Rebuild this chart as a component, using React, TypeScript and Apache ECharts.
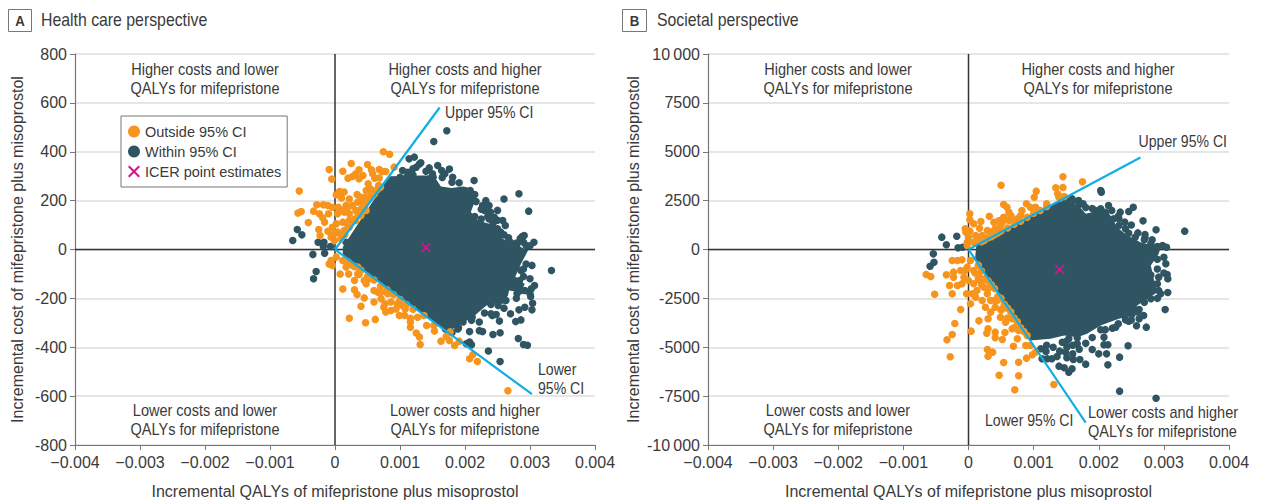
import React, { useEffect, useRef } from "react";
import * as echarts from "echarts";

const FONT = "'Liberation Sans', sans-serif";
const TEXT = "#3a3a3a";
const ORANGE = "#f7941d";
const DARK = "#2f5563";
const BLUE = "#10aee4";
const PINK = "#d4148c";

const xBounds = [-0.004, 0.004];
const xTicks = [-0.004, -0.003, -0.002, -0.001, 0, 0.001, 0.002, 0.003, 0.004];
const xLabels = ["−0.004", "−0.003", "−0.002", "−0.001", "0", "0.001", "0.002", "0.003", "0.004"];
const yBoundsA = [-800, 800];
const yBoundsB = [-10000, 10000];

// Panel A: health care perspective
const aIcer = [[0.0014, 8]];
const aUpperCI = [[0, 0], [0.00161, 581]];
const aLowerCI = [[0, 0], [0.00303, -592]];
const aOutside = [
  [.000744,400],[.00084,390],[.00091,337],[-.00009,327],[-.00005,288],[.00012,320],[.00025,352],[.0005,348],[.00037,326],[.00032,310],[.00027,299],[.0002,292],[.00037,289],[.00043,303],[.00056,326],[.00058,310],[.00068,327],[.00073,319],[.00078,319],[.00061,292],[.00068,293],
  [-.00055,239],[-.00057,149],[-.00052,155],[-.00041,110],[-.00033,157],[-.00028,183],[-.00018,183],[-.00011,180],[-.00004,173],[-.00024,146],[-.00019,130],[-.00016,112],[-.0001,146],[-.00025,82],[-.00023,57],[-.00011,75],[-.00006,50],[-.00001,37],
  [.00002,224],[.00007,237],[.00014,235],[.0001,211],[.00022,207],[.00034,225],[.00048,241],[.00051,269],[.00055,248],[.00067,262],[.00005,173],[.00017,180],[.00027,180],[.0004,194],[.00051,207],[.00061,228],
  [.00004,146],[.00014,153],[.00022,146],[.00032,160],[.00043,173],[.00048,160],[.00002,105],[.00012,112],[.00022,119],[.00032,119],[.0004,139],[-.00004,91],[.00004,71],[.00014,78],[.00022,91],[.00009,44],[-.00001,64],[.00012,160],[.0002,173],[.00035,194],[.00045,214],[.00055,221],[.00058,235],[.0004,214],
  [.0001,55],[.0002,95],[.0003,125],[.0004,165],[.0005,200],[.0006,235],[.0007,255],[.00025,110],[.00035,150],[.00045,180],[.00055,215],[.00015,60],[.00065,245],
  [-.00006,-45],[-.00009,-59],[-.00004,-65],[.00002,-31],[.00012,-45],[.00017,-72],[.00008,-100],[.00021,-100],[.0003,-127],[.00012,-162],[.0003,-165],[.00034,-184],[.0004,-232],[.00045,-198],[.00022,-281],[.00047,-300],[.00062,-286],[.0006,-215],[.00035,-100],[.00037,-102],[.00045,-127],[.00053,-120],[.00048,-140],[.00066,-175],[.0006,-168],[.00071,-202],[.00077,-222],[.00075,-236],[.00078,-256],[.00086,-250],[.00094,-243],[.00099,-270],[.00107,-270],[.00108,-243],[.00116,-281],[.00116,-297],[.00116,-318],[.00125,-342],[.0013,-358],[.00131,-389],[.00086,-215],[.00096,-222],[.00104,-229],[.00127,-277],[.00081,-181],[.00071,-175],[.00035,-72],[.00027,-65],
  [.0002,-50],[.0004,-85],[.0006,-125],[.0008,-165],[.001,-205],[.0012,-245],[.0005,-110],[.0007,-150],[.0009,-185],[.0011,-225],[.0003,-70],
  [.00137,-270],[.00141,-311],[.00152,-311],[.00153,-334],[.00163,-375],[.00171,-356],[.00176,-372],[.00184,-393],[.00191,-375],[.00177,-338],[.00207,-447],[.00212,-431],[.00219,-458],[.00266,-578],
];
const aWithin = [
  [-.00058,82],[-.00051,60],[-.00065,37],[-.00026,30],[-.00017,30],[-.00007,12],[-.00018,12],[.00017,30],[-.00034,-20],[-.00016,-15],[-.00029,-90],[-.00033,-120],
  [.00122,378],[.00114,371],[.00104,323],[.00112,316],[.0013,350],[.00125,337],[.0012,330],
  [.00172,486],[.00152,442],[.00145,334],[.00158,344],[.00176,329],[.00164,323],[.00169,310],[.00181,296],[.00214,282],[.00191,273],[.00151,296],[.00145,289],[.00132,355],[.00283,228],[.0026,207],[.00298,157],[.00232,200],[.00227,180],[.00217,196],[.00237,180],[.0025,160],[.00225,125],[.00245,132],[.00258,119],[.00262,98],[.00255,71],[.00267,48],[.00291,57],[.00288,53],[.00306,30],[.00294,16],[.00279,26],[.00208,241],[.00199,241],[.0023,160],[.00239,153],[.00243,105],[.0025,85],
  [.002,215],[.00215,225],[.00225,165],[.00235,135],[.00215,135],[.00225,100],[.00237,125],[.0025,120],[.0024,75],[.0026,60],[.0027,30],[.0028,20],[.0029,30],[.003,15],[.00285,45],[.0018,275],[.00165,295],[.0015,310],[.0014,320],[.0012,305],[.0011,295],[.001,295],
  [.00333,-86],[.00254,-458],[.00236,-415],[.00282,-364],[.0029,-389],[.00296,-392],[.00243,-348],[.00254,-341],[.00207,-336],[.00222,-332],[.00227,-336],[.00207,-379],[.0021,-390],[.00202,-386],[.00222,-297],[.00253,-293],[.00278,-295],[.00286,-288],[.00242,-270],[.00248,-266],[.0027,-263],[.00283,-247],[.00292,-236],[.00303,-247],[.00304,-220],[.00301,-192],[.00279,-199],[.00263,-209],[.00255,-175],[.00261,-181],[.00286,-168],[.00292,-168],[.00307,-147],[.00302,-161],[.00284,-127],[.00276,-127],[.00294,-59],[.00303,-65],[.00286,-86],[.00189,-325],[.00197,-297],[.00211,-277],[.00251,-229],[.0024,-263],
  [.0024,-225],[.0026,-240],[.0023,-260],[.0021,-290],[.0019,-320],[.0018,-340],[.0017,-325],[.0028,-150],[.0029,-110],[.003,-120],[.0029,-80],[.0027,-100],[.003,-180],[.0028,-180],[.0026,-150],[.0025,-200],
];
const aCore = [
  [.00012,10],[.00075,265],[.00085,300],[.00132,303],[.00143,303],[.00156,285],[.00163,258],[.00179,252],[.00197,258],[.00212,248],[.00217,211],[.00209,153],[.0022,119],[.00237,105],[.00248,91],[.00258,44],[.00281,16],[.00297,-4],[.00286,-59],[.00276,-120],[.00292,-140],[.00286,-175],[.00268,-168],[.00261,-222],[.00243,-222],[.00233,-229],[.00215,-270],[.00199,-297],[.00181,-325],[.0016,-315],[.00132,-258],[.00012,-20],
];

// Panel B: societal perspective
const bIcer = [[0.0014, -1023]];
const bUpperCI = [[0, 0], [0.00264, 4706]];
const bLowerCI = [[0, 0], [0.0018, -8850]];
const bOutside = [
  [.0005,3290],[.00104,2984],[.00101,2677],[.0012,2336],[.00089,2336],[.00054,2302],[.00059,2165],[.00062,1910],[.00065,1739],[.00082,1995],[.0008,1739],[.00095,2165],[.00103,2165],[.00075,1569],[.00002,1824],[.00002,1517],[.00032,1705],[.00019,1432],[.00008,1313],[-.00005,1057],[-.00004,887],[.00017,1091],[.00002,938],[0,631],[-.00002,375],[-.00002,205],[.00011,716],[.00021,716],[.00029,972],[.00039,1398],[.00047,1483],[.00054,1654],[.00049,1228],[.00041,1057],[.00034,887],[.00024,460],[.00016,460],[.00008,375],[.00062,1483],[.00052,1398],[.0007,1483],
  [.0002,400],[.0003,600],[.0004,760],[.0005,950],[.0006,1100],[.0007,1290],[.0008,1450],[.0009,1650],[.001,1850],[.0011,2000],[.0012,2200],[.00035,650],[.00045,850],
  [.00145,3717],[.00175,3461],[.00145,3171],[.00134,3154],[.00137,2847],[.00139,2677],[.00147,2711],
  [-.00065,-1279],[-.00058,-1381],[-.00052,-2285],[-.00034,-1296],[-.00023,-1159],[-.00023,-1415],[-.00029,-1841],[-.00025,-2268],[-.00025,-563],[-.00017,-563],[-.0001,-529],[-.00017,-1841],[-.0001,-1756],[-.00012,-3069],[-.00021,-3785],[-.00025,-4348],[-.00033,-4621],[-.00028,-5490],[.00004,-4177],[.00003,-2779],[.00016,-3649],[-.00003,-2268],[-.00005,-1074],[.00003,-563],[0,-1585],[-.00007,-1415],[.00008,-1756],[.00013,-2097],[.00021,-2609],[.00011,-2438],[.00029,-2268],[.00034,-2609],[.00041,-2950],[.00034,-3205],[.0003,-3546],[.00028,-4280],[.0003,-4058],[.00041,-4228],[.00041,-4518],[.00052,-4604],[.00056,-4245],[.00049,-3461],[.00057,-3717],[.00067,-3546],[.00067,-4058],[.00077,-4143],[.00075,-4569],[.00069,-4945],[.00029,-5115],[.00037,-5251],[.0003,-5456],[.00054,-5780],[.00077,-5763],[.00047,-6428],[.00077,-6462],[.00071,-7178],[.00089,-5558],[.00098,-5388],[.00103,-5252],[.00088,-4910],[.00095,-4910],[.00052,-3035],[.00044,-2609],[.00024,-1927],[.00018,-1585],[-.00002,-903],[-.00012,-1074],[.00008,-1074],[.00016,-1330],[.00006,-2268],[.00026,-2950],[.00131,-6905],
  [.0002,-1100],[.0003,-1600],[.0004,-2000],[.0005,-2500],[.0006,-3000],[.0007,-3500],[.0008,-4000],[.0009,-4400],[.00025,-1500],[.00035,-1800],[.00045,-2400],[.00055,-2800],[.00065,-3200],[.00075,-3700],[.00085,-4200],[.00015,-800],[.0001,-1200],[.00015,-1500],[.0002,-1800],[.0003,-2000],[.0004,-2600],[.0005,-3100],[.0006,-3500],[.0007,-4000],
];
const bWithin = [
  [-.00041,631],[-.00034,239],[-.00018,682],[-.00016,85],[-.00009,119],
  [.00203,3018],[.00204,2933],[.00332,938],[.00268,1466],[.00288,1006],[.00253,2165],[.00246,1944],[.00233,1910],[.00215,2251],[.00203,2080],[.00195,1995],[.00176,2336],[.00169,2506],[.00159,2592],[.00147,2302],[.00256,631],[.00271,767],[.00271,597],[.00282,494],[.00298,205],[.00304,119],[.00241,1057],[.00231,1228],[.00223,1569],[.00231,1569],[.00246,835],
  [.0022,2000],[.0021,1900],[.0023,1700],[.0024,1400],[.0025,1250],[.0026,850],[.0027,500],[.0028,300],[.0029,150],[.0019,2100],[.0018,2150],[.0017,2300],[.0016,2450],[.0015,2500],
  [.00303,-733],[.00305,-1279],[.00306,-1500],[.00306,-2200],[.00302,-3069],[.0028,-2523],[.00272,-2182],[.00292,-2097],[.00282,-1756],[.0029,-1756],[.00295,-2268],[.00292,-1415],[.00262,-3547],[.00269,-3376],[.00258,-3904],[.00273,-3972],[.00251,-3325],[.00262,-3069],[.00241,-3598],[.00246,-3666],[.00221,-4023],[.00226,-3972],[.00203,-4109],[.00208,-4484],[.00208,-4876],[.00214,-4876],[.00245,-4927],[.0019,-5115],[.002,-5337],[.00212,-5337],[.00232,-5507],[.00214,-5900],[.0018,-5865],[.00171,-5627],[.00161,-5627],[.0016,-5337],[.00151,-5541],[.00149,-5252],[.00136,-5473],[.00128,-5592],[.00139,-5967],[.00147,-6053],[.00154,-6274],[.00159,-6104],[.00151,-4996],[.00144,-4740],[.00154,-4570],[.00167,-4825],[.00167,-4518],[.00232,-7246],[.00288,-7605],
  [.0029,-1000],[.003,-1200],[.0028,-1300],[.0029,-500],[.003,-400],[.0029,-2500],[.0027,-2700],[.0026,-3200],[.0025,-3600],[.0023,-3800],[.0021,-4100],[.0019,-4500],[.0018,-4800],[.0017,-5100],[.0015,-4700],[.0013,-5000],[.0014,-5200],[.0012,-4900],[.0016,-4900],
  [-.00054,-222],[-.00053,-648],[-.00059,-853],[.00111,-5081],[.00119,-5217],[.00113,-5592],[.00121,-5592],
];
const bCore = [
  [.00012,220],[.00138,2480],[.00152,2421],[.00169,2250],[.0018,1824],[.00211,2080],[.00221,1569],[.00228,1142],[.00244,716],[.00264,375],[.00295,85],[.00292,-222],[.0028,-818],[.00285,-1585],[.0029,-2183],[.00275,-2523],[.00259,-2864],[.00254,-3376],[.00231,-3547],[.00216,-3717],[.00203,-3887],[.00182,-4313],[.00167,-4484],[.00147,-4399],[.00126,-4570],[.00095,-4650],[.0001,-500],
];

// Text
const quadrantA = ["Higher costs and lower\nQALYs for mifepristone", "Higher costs and higher\nQALYs for mifepristone", "Lower costs and lower\nQALYs for mifepristone", "Lower costs and higher\nQALYs for mifepristone"];
const legendNames = ["Outside 95% CI", "Within 95% CI", "ICER point estimates"];
const xName = "Incremental QALYs of mifepristone plus misoprostol";
const yName = "Incremental cost of mifepristone plus misoprostol";
const X_ICON = "path://M1.2 0L5 3.8L8.8 0L10 1.2L6.2 5L10 8.8L8.8 10L5 6.2L1.2 10L0 8.8L3.8 5L0 1.2Z";

const panelSeries = (i: number, outside: number[][], within: number[][], core: number[][], upper: number[][], lower: number[][], icer: number[][], yb: number[]) => {
  const axes = { xAxisIndex: i, yAxisIndex: i };
  const zero = (data: number[][]) => ({
    type: "line", ...axes, data, showSymbol: false, silent: true, z: 1,
    lineStyle: { color: "#333", width: 1.5 },
  });
  const ci = (data: number[][]) => ({
    type: "line", ...axes, data, showSymbol: false, silent: true, z: 4,
    lineStyle: { color: BLUE, width: 2.2 },
  });
  return [
    zero([[xBounds[0], 0], [xBounds[1], 0]]),
    zero([[0, yb[0]], [0, yb[1]]]),
    {
      type: "custom", ...axes, data: core, silent: true, z: 2, clip: false,
      renderItem: (p: any, api: any) => p.dataIndex !== 0 ? null : ({
        type: "polygon",
        shape: { points: core.map((v) => api.coord(v)) },
        style: { fill: DARK },
      }),
    },
    { type: "scatter", name: legendNames[1], ...axes, data: within, symbolSize: 7.5, z: 2, itemStyle: { color: DARK, opacity: 1 } },
    { type: "scatter", name: legendNames[0], ...axes, data: outside, symbolSize: 7.5, z: 3, itemStyle: { color: ORANGE, opacity: 1 } },
    ci(upper),
    ci(lower),
    { type: "scatter", name: legendNames[2], ...axes, data: icer, symbol: X_ICON, symbolSize: 10, z: 5, itemStyle: { color: PINK, opacity: 1 } },
  ];
};

const label = (text: string, x: number, y: number, align = "center", size = 16, weight: any = "normal", color = TEXT) => ({
  type: "text", x, y, z: 10, scaleX: 0.88, originX: 0, originY: 0,
  style: { text, fill: color, fontFamily: FONT, fontSize: size, fontWeight: weight, align, verticalAlign: "middle", lineHeight: 19 },
});

const axisCommon = {
  axisLine: { show: true, onZero: false, lineStyle: { color: "#777", width: 1.2 } },
  axisTick: { show: true, length: 5, lineStyle: { color: "#777" } },
  nameLocation: "middle",
  nameTextStyle: { color: TEXT, fontFamily: FONT, fontSize: 16 },
};

const xAxisOf = (gridIndex: number) => ({
  type: "value", gridIndex, min: xBounds[0], max: xBounds[1], interval: 0.001,
  ...axisCommon, name: xName, nameGap: 38, splitLine: { show: false },
  axisLabel: {
    color: TEXT, fontFamily: FONT, fontSize: 16, margin: 9, showMinLabel: true, showMaxLabel: true,
    formatter: (v: number) => xLabels[xTicks.findIndex((t) => Math.abs(t - v) < 1e-6)],
  },
});

const yAxisOf = (gridIndex: number, yb: number[], interval: number, nameGap: number, fmt: (v: number) => string) => ({
  type: "value", gridIndex, min: yb[0], max: yb[1], interval,
  ...axisCommon, name: yName, nameGap,
  splitLine: { show: true, lineStyle: { color: "#dedede", width: 1.5 } },
  axisLabel: { color: TEXT, fontFamily: FONT, fontSize: 16, margin: 8, formatter: fmt },
});

const fmtY = (v: number) => {
  const s = Math.abs(v) >= 10000 ? "10\u2009000" : String(Math.abs(v));
  return (v < 0 ? "-" : "") + s;
};

const QUAD = 16.5;

export default function App() {
  const ref = useRef<HTMLDivElement>(null);
  useEffect(() => {
    const chart = echarts.init(ref.current!, undefined, { renderer: "svg" });
    chart.setOption({
      animation: false,
      backgroundColor: "#fff",
      textStyle: { fontFamily: FONT },
      grid: [
        { left: 75, width: 520, top: 54, height: 391 },
        { left: 708, width: 521, top: 54, height: 391 },
      ],
      legend: {
        data: legendNames.map((name, i) => ({ name, icon: i === 2 ? X_ICON : "circle" })),
        orient: "vertical", left: 121, top: 116, padding: [8, 6, 8, 7],
        itemWidth: 12, itemHeight: 12, itemGap: 5, selectedMode: false,
        borderColor: "#777", borderWidth: 1, backgroundColor: "#fff",
        textStyle: { color: TEXT, fontFamily: FONT, fontSize: 14.5 },
      },
      xAxis: [xAxisOf(0), xAxisOf(1)],
      yAxis: [
        yAxisOf(0, yBoundsA, 200, 50, fmtY),
        yAxisOf(1, yBoundsB, 2500, 67, fmtY),
      ],
      series: [
        ...panelSeries(0, aOutside, aWithin, aCore, aUpperCI, aLowerCI, aIcer, yBoundsA),
        ...panelSeries(1, bOutside, bWithin, bCore, bUpperCI, bLowerCI, bIcer, yBoundsB),
      ],
      graphic: [
        { type: "rect", shape: { x: 8.5, y: 9.5, width: 23, height: 22 }, style: { fill: "#fff", stroke: "#777", lineWidth: 1 } },
        { type: "rect", shape: { x: 622.5, y: 9.5, width: 24, height: 22 }, style: { fill: "#fff", stroke: "#777", lineWidth: 1 } },
        label("A", 20, 21, "center", 15, "bold"),
        label("B", 634.5, 21, "center", 15, "bold"),
        label("Health care perspective", 41, 20, "left", 18),
        label("Societal perspective", 657, 20, "left", 18),
        label(quadrantA[0], 205, 78.5, "center", QUAD),
        label(quadrantA[1], 465, 78.5, "center", QUAD),
        label(quadrantA[2], 205, 419.5, "center", QUAD),
        label(quadrantA[3], 465, 419.5, "center", QUAD),
        label(quadrantA[0], 838, 78.5, "center", QUAD),
        label(quadrantA[1], 1098, 78.5, "center", QUAD),
        label(quadrantA[2], 838, 419.5, "center", QUAD),
        label(quadrantA[3], 1088, 421.5, "left", QUAD),
        label("Upper 95% CI", 445, 112, "left"),
        label("Lower\n95% CI", 538, 379, "left"),
        label("Upper 95% CI", 1227, 141, "right"),
        label("Lower 95% CI", 985, 420, "left"),
      ],
    });
    return () => chart.dispose();
  }, []);
  return <div ref={ref} style={{ position: "absolute", left: 0, top: 0, width: 1266, height: 504 }} />;
}
